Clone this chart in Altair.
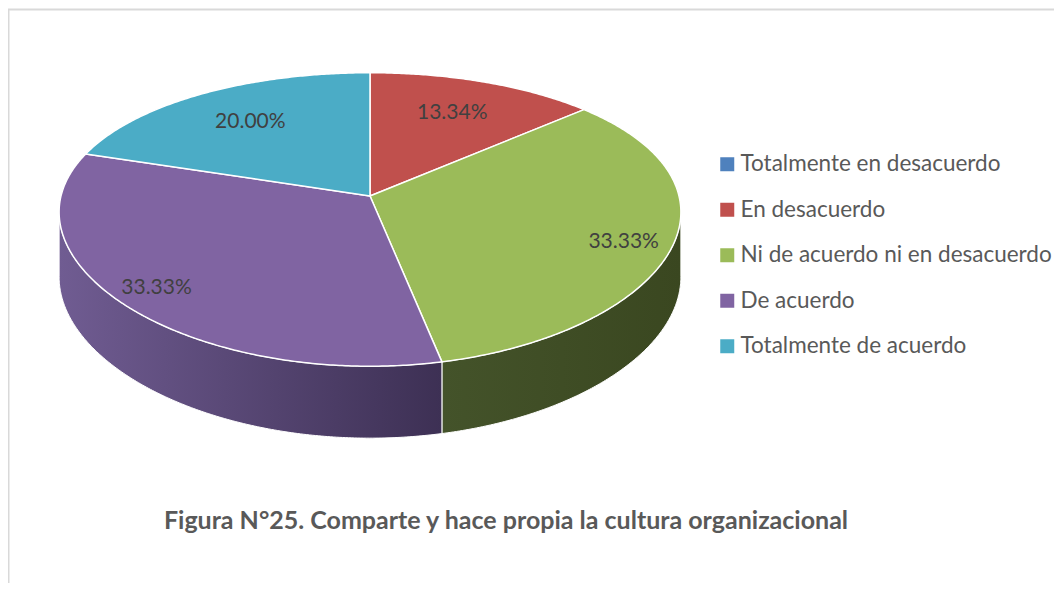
import math
import altair as alt
import pandas as pd

# ---------------- data ----------------
categories = ["Totalmente en desacuerdo", "En desacuerdo",
              "Ni de acuerdo ni en desacuerdo", "De acuerdo", "Totalmente de acuerdo"]
percents = [0.00, 13.34, 33.33, 33.33, 20.00]
colors = ["#4F81BD", "#C0504D", "#9BBB59", "#8064A2", "#4BACC6"]
title_text = "Figura N°25. Comparte y hace propia la cultura organizacional"

# ---------------- layout (style, not data) ----------------
W, H = 1046, 575          # svg size; page offset 8px
CX, CY = 370, 196         # pie apex (page px)
RX, RY = 309, 143
KX, KY = 0.11, 0.16       # perspective factors
DEPTH = 64
# label placement: (fraction along slice, radial fraction)
LABEL_POS = {1: (0.5, 0.70), 2: (0.525, 0.85), 3: (0.5, 0.87), 4: (0.5, 0.70)}
wall_fill = {
    2: ("#44532A", "#3A4720"),
    3: ("#705C92", "#3D3054"),
}


def proj(t, r=1.0):
    v = -math.cos(t) * r
    x = CX + RX * math.sin(t) * r / (1 - KX * v)
    y = CY + RY * v / (1 - KY * v)
    return x, y


def drop(t):
    v = -math.cos(t)
    return DEPTH / (1 - KX * v)


total = sum(percents)
bounds = []
acc = 0.0
for p in percents:
    t0 = acc / total * 2 * math.pi
    acc += p
    t1 = acc / total * 2 * math.pi
    bounds.append((t0, t1))

STEP = math.radians(0.5)


def arc_ts(a, b):
    n = max(2, int((b - a) / STEP) + 1)
    return [a + (b - a) * k / (n - 1) for k in range(n)]


face_rows, label_rows = [], []
for i, (cat, p) in enumerate(zip(categories, percents)):
    if p <= 0:
        continue
    t0, t1 = bounds[i]
    pts = [(CX, CY)] + [proj(t) for t in arc_ts(t0, t1)] + [(CX, CY)]
    for k, (x, y) in enumerate(pts):
        face_rows.append({"cat": cat, "i": k, "x": x, "y": y})
    fr, rr = LABEL_POS.get(i, (0.5, 0.75))
    lx, ly = proj(t0 + (t1 - t0) * fr, rr)
    label_rows.append({"x": lx, "y": ly, "txt": f"{p:.2f}%"})

face_df = pd.DataFrame(face_rows)
label_df = pd.DataFrame(label_rows)

ts1 = math.acos(-KX)
ts2 = 2 * math.pi - ts1

xs = alt.Scale(domain=[8, 8 + W], nice=False, zero=False)
ys = alt.Scale(domain=[8 + H, 8], nice=False, zero=False)

wall_layers = []
for i, (cat, p) in enumerate(zip(categories, percents)):
    if p <= 0:
        continue
    t0, t1 = bounds[i]
    a, b = max(t0, ts1), min(t1, ts2)
    if a >= b:
        continue
    ts = arc_ts(a, b)
    top = [proj(t) for t in ts]
    bot = [(proj(t)[0], proj(t)[1] + drop(t)) for t in reversed(ts)]
    pts = top + bot + [top[0]]
    df = pd.DataFrame([{"i": k, "x": x, "y": y} for k, (x, y) in enumerate(pts)])
    c0, c1 = wall_fill.get(i, ("#555555", "#333333"))
    grad = alt.LinearGradient(
        gradient="linear", x1=0, x2=1, y1=0, y2=0,
        stops=[alt.GradientStop(color=c0, offset=0),
               alt.GradientStop(color=c1, offset=1)])
    wall_layers.append(
        alt.Chart(df).mark_line(filled=True, fill=grad, stroke="white",
                                strokeWidth=1, strokeJoin="round")
        .encode(x=alt.X("x:Q", scale=xs, axis=None),
                y=alt.Y("y:Q", scale=ys, axis=None),
                order=alt.Order("i:Q"))
    )

faces = alt.Chart(face_df).mark_line(
    filled=True, stroke="white", strokeWidth=1.5, strokeJoin="round"
).encode(
    x=alt.X("x:Q", scale=xs, axis=None),
    y=alt.Y("y:Q", scale=ys, axis=None),
    order=alt.Order("i:Q"),
    color=alt.Color(
        "cat:N",
        scale=alt.Scale(domain=categories, range=colors),
        legend=alt.Legend(
            title=None, orient="none", legendX=708, legendY=145,
            symbolType="square", symbolSize=196, symbolStrokeWidth=0,
            labelFont="Lato", labelFontSize=22.5, labelColor="#595959",
            labelOffset=2, rowPadding=22.5, labelLimit=400,
        ),
    ),
)

labels = alt.Chart(label_df).mark_text(
    font="Lato", fontSize=21, color="#404040", align="center", baseline="middle"
).encode(
    x=alt.X("x:Q", scale=xs, axis=None),
    y=alt.Y("y:Q", scale=ys, axis=None),
    text="txt:N",
)

title = alt.Chart(pd.DataFrame({"t": [title_text]})).mark_text(
    font="Lato", fontSize=25, fontWeight="bold", color="#595959",
    align="center", baseline="alphabetic"
).encode(
    x=alt.value(506 - 8), y=alt.value(529 - 8), text="t:N"
)

frame_top = alt.Chart(pd.DataFrame({"a": [0]})).mark_rule(
    color="#D9D9D9", strokeWidth=2
).encode(x=alt.value(0), x2=alt.value(W), y=alt.value(1.5))
frame_left = alt.Chart(pd.DataFrame({"a": [0]})).mark_rule(
    color="#D9D9D9", strokeWidth=2
).encode(x=alt.value(0.5), y=alt.value(1), y2=alt.value(H))

chart = alt.layer(
    frame_top, frame_left, *wall_layers, faces, labels, title
).properties(
    width=W, height=H, padding=0,
    autosize=alt.AutoSizeParams(type="none"),
).configure_view(stroke=None)

chart.save("out.html", embed_options={"renderer": "svg", "actions": False})
